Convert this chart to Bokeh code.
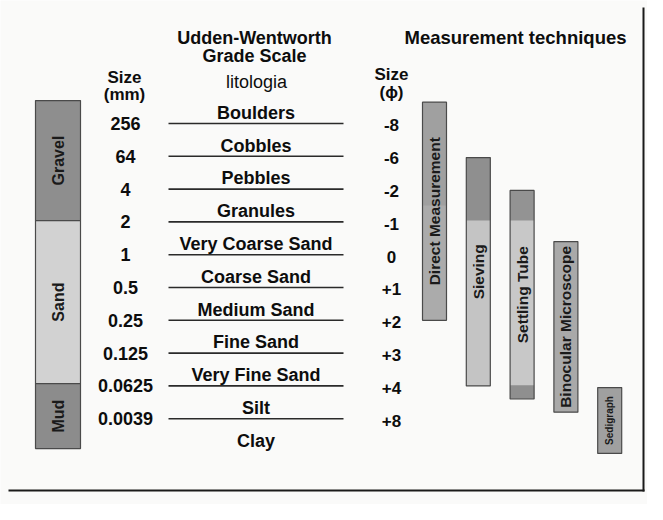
import numpy as np
from bokeh.plotting import figure
from bokeh.models import Range1d
from bokeh.core.properties import value
from bokeh.embed import file_html
from bokeh.resources import INLINE

# ---------------- data ----------------
sizes_mm = ["256", "64", "4", "2", "1", "0.5", "0.25", "0.125", "0.0625", "0.0039"]
sizes_phi = ["-8", "-6", "-2", "-1", "0", "+1", "+2", "+3", "+4", "+8"]
grades = ["Boulders", "Cobbles", "Pebbles", "Granules", "Very Coarse Sand",
          "Coarse Sand", "Medium Sand", "Fine Sand", "Very Fine Sand", "Silt", "Clay"]

classes = ["Gravel", "Sand", "Mud"]
class_start = [-0.70, 2.96, 7.93]   # in grade-boundary rows
class_end = [2.96, 7.93, 9.91]
class_colors = ["#8e8e8e", "#d2d2d2", "#8c8c8c"]

techniques = ["Direct Measurement", "Sieving", "Settling Tube",
              "Binocular Microscope", "Sedigraph"]
tech_start = [-0.65, 1.04, 2.04, 3.60, 8.05]
tech_end = [6.00, 8.00, 8.40, 8.80, 10.06]
tech_colors = ["#ababab", "#c4c4c4", "#c8c8c8", "#a9a9a9", "#a0a0a0"]
# darker (coarse) shaded parts inside some technique bars
shade_tech = [0, 1, 2, 2]
shade_start = [-0.65, 1.04, 2.04, 7.98]
shade_end = [2.5, 2.96, 2.96, 8.40]
shade_colors = ["#a0a0a0", "#8f8f8f", "#939393", "#8f8f8f"]

# ---------------- layout ----------------
W, H = 647, 504
ROW0, ROWH = 123.0, 32.8          # pixel of first boundary & row spacing


def row(py):
    return (py - ROW0) / ROWH


p = figure(width=W, height=H, output_backend="svg", toolbar_location=None,
           x_range=Range1d(0, W), y_range=Range1d(row(H), row(0)),
           min_border=0)
p.axis.visible = False
p.grid.visible = False
p.outline_line_color = None
p.background_fill_color = "#fafaf9"
p.border_fill_color = "#fafaf9"

FONT = value("Liberation Sans")
INK = "#0d0d0d"
n = len(sizes_mm)
idx = np.arange(n)

# grade boundary lines
p.segment(x0=[168] * n, x1=[343] * n, y0=idx, y1=idx, line_color="#2a2a2a", line_width=1.6)

# grade names
p.text(x=[255.5] * len(grades), y=np.arange(len(grades)) - 0.02, text=grades,
       text_font=FONT, text_font_style="bold", text_font_size="18px",
       text_align="center", text_baseline="bottom", text_color=INK)

# mm sizes
p.text(x=[125] * n, y=idx, text=sizes_mm, text_font=FONT, text_font_style="bold",
       text_font_size="18px", text_align="center", text_baseline="middle", text_color=INK)

# phi sizes
p.text(x=[391] * n, y=idx + 0.06, text=sizes_phi, text_font=FONT, text_font_style="bold",
       text_font_size="17px", text_align="center", text_baseline="middle", text_color=INK)

# class bars
p.quad(left=35, right=80, top=class_start, bottom=class_end, fill_color=class_colors,
       line_color="#4a4a4a", line_width=1.2)
cls_mid = [(a + b) / 2 for a, b in zip(class_start, class_end)]
p.text(x=[58] * 3, y=cls_mid, text=classes, angle=np.pi / 2, text_font=FONT,
       text_font_style="bold", text_font_size="16px", text_align="center",
       text_baseline="middle", text_color="#1a1a1a")

# technique bars
nt = len(techniques)
tx = 422 + 43.8 * np.arange(nt)
p.quad(left=tx, right=tx + 24, top=tech_start, bottom=tech_end, fill_color=tech_colors,
       line_color=None)
sx = np.array([tx[i] for i in shade_tech])
p.quad(left=sx, right=sx + 24, top=shade_start, bottom=shade_end, fill_color=shade_colors,
       line_color=None)
p.quad(left=tx, right=tx + 24, top=tech_start, bottom=tech_end, fill_color=None,
       line_color="#4a4a4a", line_width=1.2)
tech_mid = [(a + b) / 2 for a, b in zip(tech_start, tech_end)]
p.text(x=tx[:4] + 12, y=tech_mid[:4], text=techniques[:4], angle=np.pi / 2, text_font=FONT,
       text_font_style="bold", text_font_size="15.5px", text_align="center",
       text_baseline="middle", text_color="#1a1a1a")
p.text(x=[tx[4] + 12], y=[tech_mid[4]], text=[techniques[4]], angle=np.pi / 2, text_font=FONT,
       text_font_style="bold", text_font_size="10px", text_align="center",
       text_baseline="middle", text_color="#1a1a1a")

# headers
hdr = dict(text_font=FONT, text_align="center", text_baseline="middle", text_color=INK)
p.text(x=[254], y=[row(37)], text=["Udden-Wentworth"], text_font_style="bold",
       text_font_size="18px", **hdr)
p.text(x=[254], y=[row(55)], text=["Grade Scale"], text_font_style="bold",
       text_font_size="18px", **hdr)
p.text(x=[256], y=[row(81)], text=["litologia"], text_font_style="normal",
       text_font_size="18px", **hdr)
p.text(x=[515], y=[row(37)], text=["Measurement techniques"], text_font_style="bold",
       text_font_size="18.5px", **hdr)
p.text(x=[124], y=[row(77)], text=["Size"], text_font_style="bold", text_font_size="17px", **hdr)
p.text(x=[124], y=[row(94)], text=["(mm)"], text_font_style="bold", text_font_size="17px", **hdr)
p.text(x=[391], y=[row(74)], text=["Size"], text_font_style="bold", text_font_size="17px", **hdr)
p.text(x=[391], y=[row(92)], text=["(\u03d5)"], text_font_style="bold", text_font_size="17px", **hdr)

# frame lines (scan page border)
p.segment(x0=[643], x1=[643], y0=[row(7)], y1=[row(491)], line_color="#1a1a1a", line_width=2)
p.segment(x0=[8], x1=[644], y0=[row(490)], y1=[row(490)], line_color="#1a1a1a", line_width=2)

open("out.html", "w").write(file_html(p, INLINE))
